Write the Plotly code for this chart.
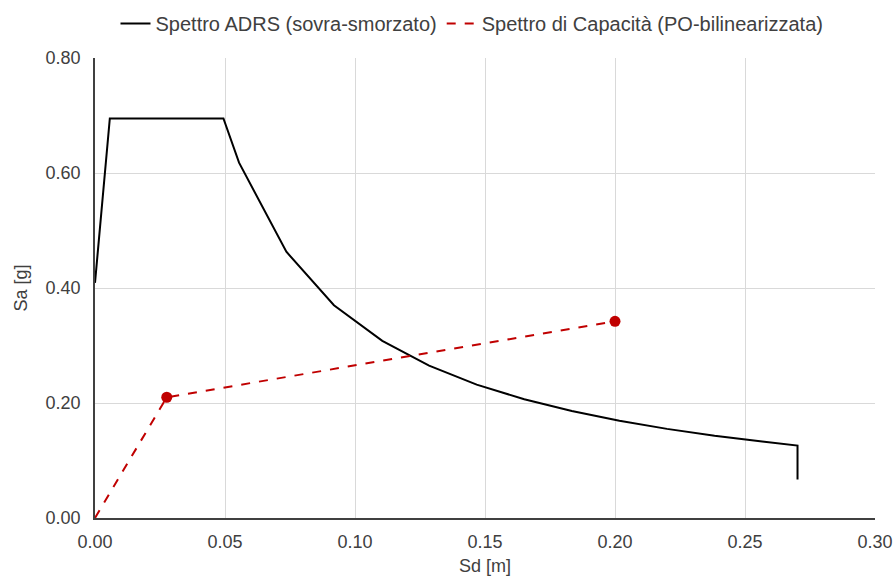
import plotly.graph_objects as go

# ADRS demand spectrum (over-damped): spectral displacement [m] vs spectral acceleration [g]
adrs_sd = [0.0, 0.0057, 0.0494, 0.0554, 0.0736, 0.0919, 0.1105, 0.1285, 0.1468,
           0.1651, 0.1834, 0.2017, 0.2200, 0.2383, 0.2566, 0.2702, 0.2702]
adrs_sa = [0.409, 0.695, 0.695, 0.618, 0.463, 0.370, 0.308, 0.265, 0.232,
           0.2065, 0.186, 0.169, 0.155, 0.143, 0.133, 0.126, 0.067]

# Bilinearised pushover capacity curve (markers on yield and ultimate points)
cap_sd = [0.0, 0.0276, 0.200]
cap_sa = [0.0, 0.210, 0.342]
cap_pts_sd = [0.0276, 0.200]
cap_pts_sa = [0.210, 0.342]

x_ticks = [0.0, 0.05, 0.10, 0.15, 0.20, 0.25, 0.30]
y_ticks = [0.0, 0.20, 0.40, 0.60, 0.80]

FONT = "Liberation Sans, Arial, sans-serif"
TEXT = "#404040"
RED = "#C00000"

fig = go.Figure()
fig.add_trace(go.Scatter(
    x=adrs_sd, y=adrs_sa, mode="lines",
    name="Spettro ADRS (sovra-smorzato)",
    line=dict(color="#000000", width=2),
))
fig.add_trace(go.Scatter(
    x=cap_sd, y=cap_sa, mode="lines",
    name="Spettro di Capacità (PO-bilinearizzata)",
    line=dict(color=RED, width=2, dash="dash"),
))
fig.add_trace(go.Scatter(
    x=cap_pts_sd, y=cap_pts_sa, mode="markers",
    marker=dict(color=RED, size=11), showlegend=False,
))

fig.update_layout(
    template="none",
    width=894, height=577,
    margin=dict(l=95, r=19, t=58, b=59, autoexpand=False),
    paper_bgcolor="white", plot_bgcolor="white",
    font=dict(family=FONT, size=18, color=TEXT),
    legend=dict(
        orientation="h", xref="container", x=472 / 894, xanchor="center",
        yref="container", y=0.993, yanchor="top",
        font=dict(size=20, color=TEXT),
        itemwidth=30, bgcolor="rgba(0,0,0,0)", borderwidth=0,
    ),
    showlegend=True,
)

fig.update_xaxes(
    range=[0, 0.30], tickvals=x_ticks, tickformat=".2f",
    showgrid=True, gridcolor="#d9d9d9", gridwidth=1,
    showline=True, linecolor="#404040", linewidth=1.5,
    zeroline=False, ticks="", automargin=False, ticklabelstandoff=7,
    tickfont=dict(size=18, color=TEXT),
    title=dict(text="Sd [m]", font=dict(size=18, color=TEXT), standoff=8),
)
fig.update_yaxes(
    range=[0, 0.80], tickvals=y_ticks, tickformat=".2f",
    showgrid=True, gridcolor="#d9d9d9", gridwidth=1,
    showline=True, linecolor="#404040", linewidth=1.5,
    zeroline=False, ticks="", automargin=False, ticklabelstandoff=9,
    tickfont=dict(size=18, color=TEXT),
    title=dict(text="Sa [g]", font=dict(size=18, color=TEXT), standoff=13),
)

fig.write_html("out.html")
